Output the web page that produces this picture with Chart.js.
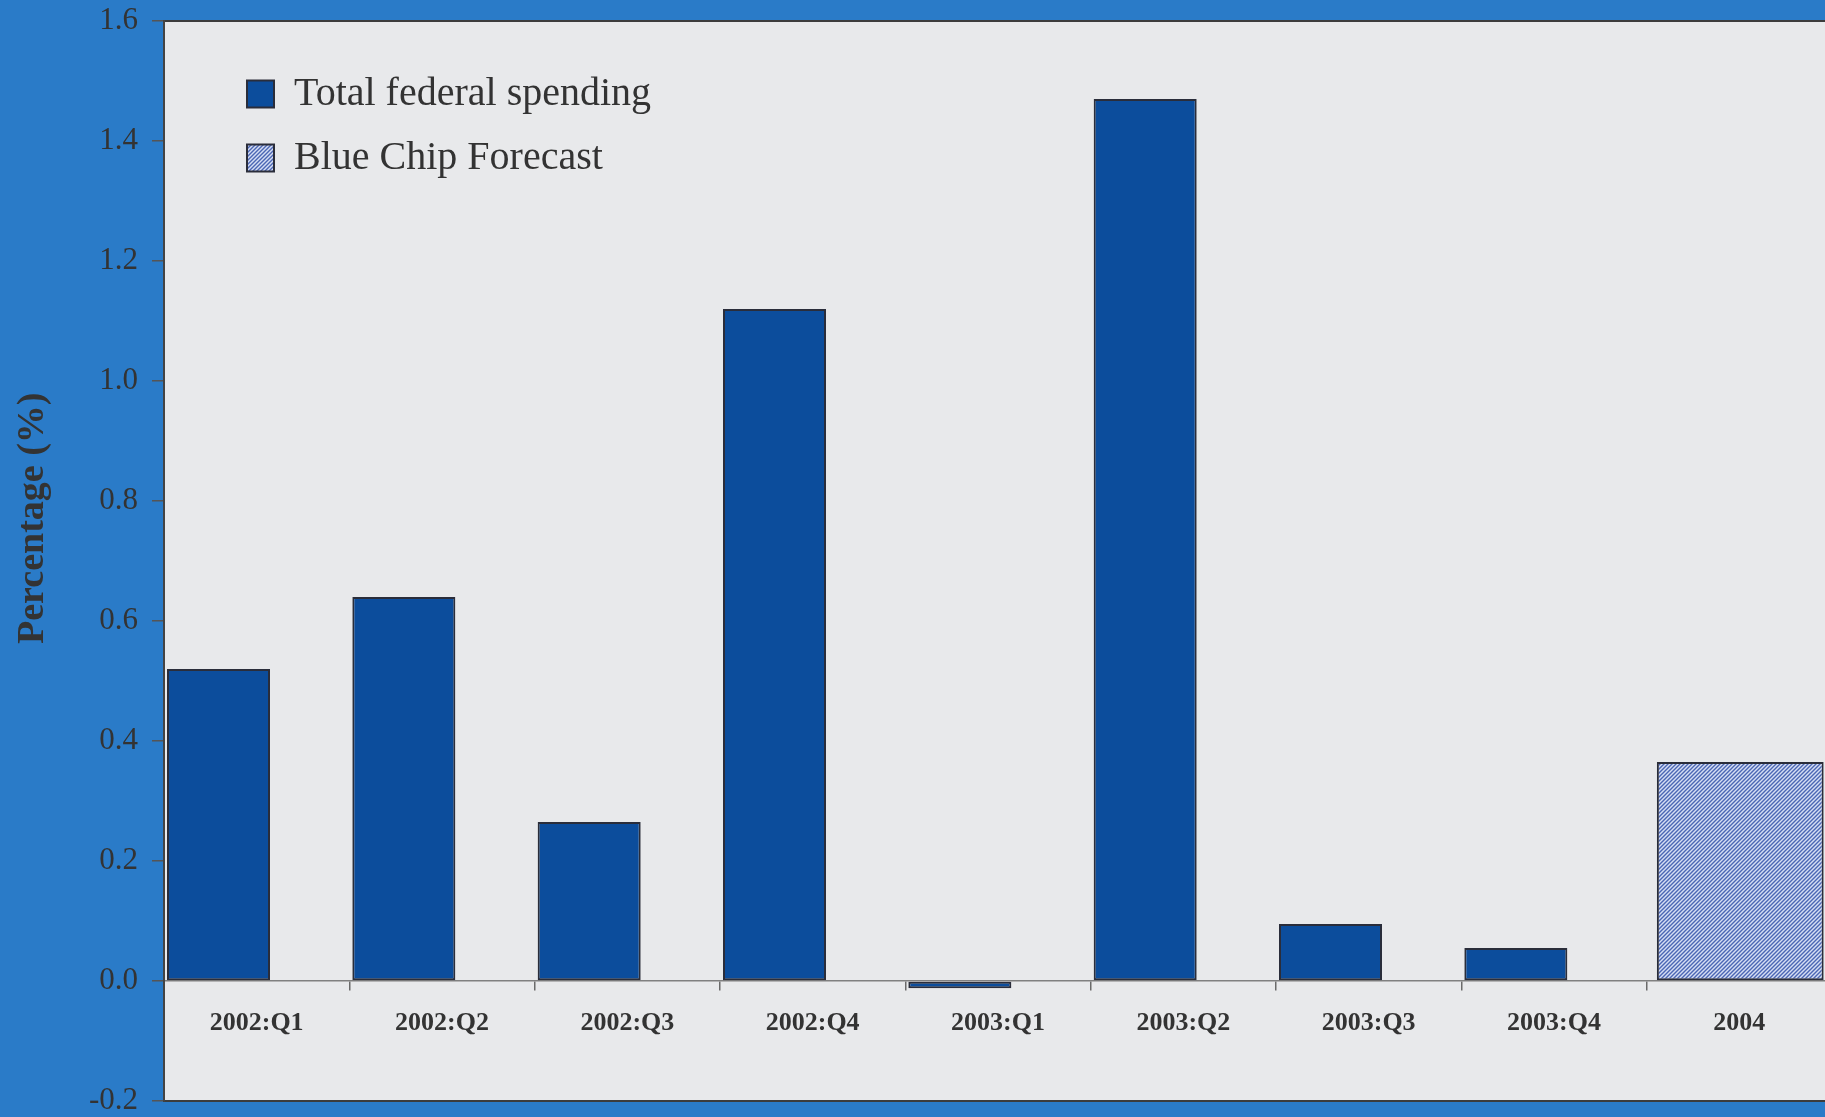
<!DOCTYPE html>
<html>
<head>
<meta charset="utf-8">
<script src="https://cdn.jsdelivr.net/npm/chart.js@4.4.1/dist/chart.umd.min.js"></script>
<style>
  html, body { margin: 0; padding: 0; overflow: hidden; background: #2a7bc8; }
  #wrap { width: 1840px; height: 1117px; }
</style>
</head>
<body>
<div id="wrap"><canvas id="chart"></canvas></div>
<script>
// values
const categories = ['2002:Q1', '2002:Q2', '2002:Q3', '2002:Q4', '2003:Q1', '2003:Q2', '2003:Q3', '2003:Q4', '2004'];
const totalSpending = [0.52, 0.64, 0.265, 1.12, -0.012, 1.47, 0.095, 0.055, null];
const blueChipForecast = [null, null, null, null, null, null, null, null, 0.365];
const yMin = -0.2;
const yMax = 1.6;
const yStep = 0.2;

const serif = '"Liberation Serif", "Times New Roman", serif';

// diagonal hatch used for the forecast bar
function makeHatch() {
    const c = document.createElement('canvas');
    c.width = 4;
    c.height = 4;
    const g = c.getContext('2d');
    g.fillStyle = '#d6def4';
    g.fillRect(0, 0, 4, 4);
    g.strokeStyle = '#4b66b4';
    g.lineWidth = 1.4;
    g.beginPath();
    g.moveTo(0, 4); g.lineTo(4, 0);
    g.moveTo(-1, 1); g.lineTo(1, -1);
    g.moveTo(3, 5); g.lineTo(5, 3);
    g.stroke();
    return g.createPattern(c, 'repeat');
}

const plotBackground = {
    id: 'plotBackground',
    beforeDraw(chart) {
        const { ctx, chartArea: a } = chart;
        ctx.save();
        ctx.fillStyle = '#e8e9eb';
        ctx.fillRect(a.left, a.top, a.right - a.left, a.bottom - a.top);
        ctx.strokeStyle = '#3c3c3c';
        ctx.lineWidth = 2;
        ctx.strokeRect(a.left, a.top, a.right - a.left, a.bottom - a.top);
        ctx.restore();
    }
};

// nudge the legend to where it sits in the original
const legendInside = {
    id: 'legendInside',
    afterLayout(chart) {
        const l = chart.legend;
        l.left += 59; l.right += 59;
        l.top += 50; l.bottom += 50;
    }
};

const ctx = document.getElementById('chart').getContext('2d');

new Chart(ctx, {
    type: 'bar',
    data: {
        labels: categories,
        datasets: [
            {
                label: 'Total federal spending',
                data: totalSpending,
                backgroundColor: '#0c4d9c',
                borderColor: '#2a2d3a',
                borderWidth: 2,
                borderSkipped: false,
                categoryPercentage: 0.8235,
                barPercentage: 1.35,
            },
            {
                label: 'Blue Chip Forecast',
                data: blueChipForecast,
                backgroundColor: makeHatch(),
                borderColor: '#2a2d3a',
                borderWidth: 2,
                borderSkipped: false,
                categoryPercentage: 0.02,
                barPercentage: 90,
            },
        ],
    },
    options: {
        responsive: true,
        maintainAspectRatio: false,
        animation: false,
        layout: { padding: { top: 21, bottom: 16, left: 0, right: 8 } },
        plugins: {
            tooltip: { enabled: false },
            legend: {
                position: 'chartArea',
                align: 'start',
                labels: {
                    boxWidth: 27,
                    boxHeight: 27,
                    padding: 24,
                    color: '#333',
                    font: { family: serif, size: 40 },
                },
            },
        },
        scales: {
            x: {
                position: { y: 0 },
                offset: true,
                grid: { offset: true, drawOnChartArea: false, tickLength: 9, color: '#6a6a6a', lineWidth: 1.5 },
                border: { color: '#808080', width: 1.5 },
                ticks: {
                    padding: 18,
                    color: '#333',
                    maxRotation: 0,
                    autoSkip: false,
                    font: { family: serif, size: 26, weight: 'bold' },
                },
            },
            y: {
                min: yMin,
                max: yMax,
                afterFit(scale) {
                    scale.width = 164;
                    // let the end labels hang over the edges like the original
                    scale.paddingTop = 0;
                    scale.paddingBottom = 0;
                },
                ticks: {
                    stepSize: yStep,
                    padding: 14,
                    color: '#333',
                    font: { family: serif, size: 31, lineHeight: 1 },
                    callback: v => v.toFixed(1),
                },
                grid: { drawOnChartArea: false, tickLength: 12, color: '#555', lineWidth: 1.5 },
                border: { color: '#444', width: 2 },
                title: {
                    display: true,
                    // leading spaces lift the title above centre, as in the original
                    text: '         Percentage (%)',
                    color: '#333',
                    font: { family: serif, size: 38, weight: 'bold' },
                    padding: { top: 10, bottom: 0 },
                },
            },
        },
    },
    plugins: [plotBackground, legendInside],
});
</script>
</body>
</html>
